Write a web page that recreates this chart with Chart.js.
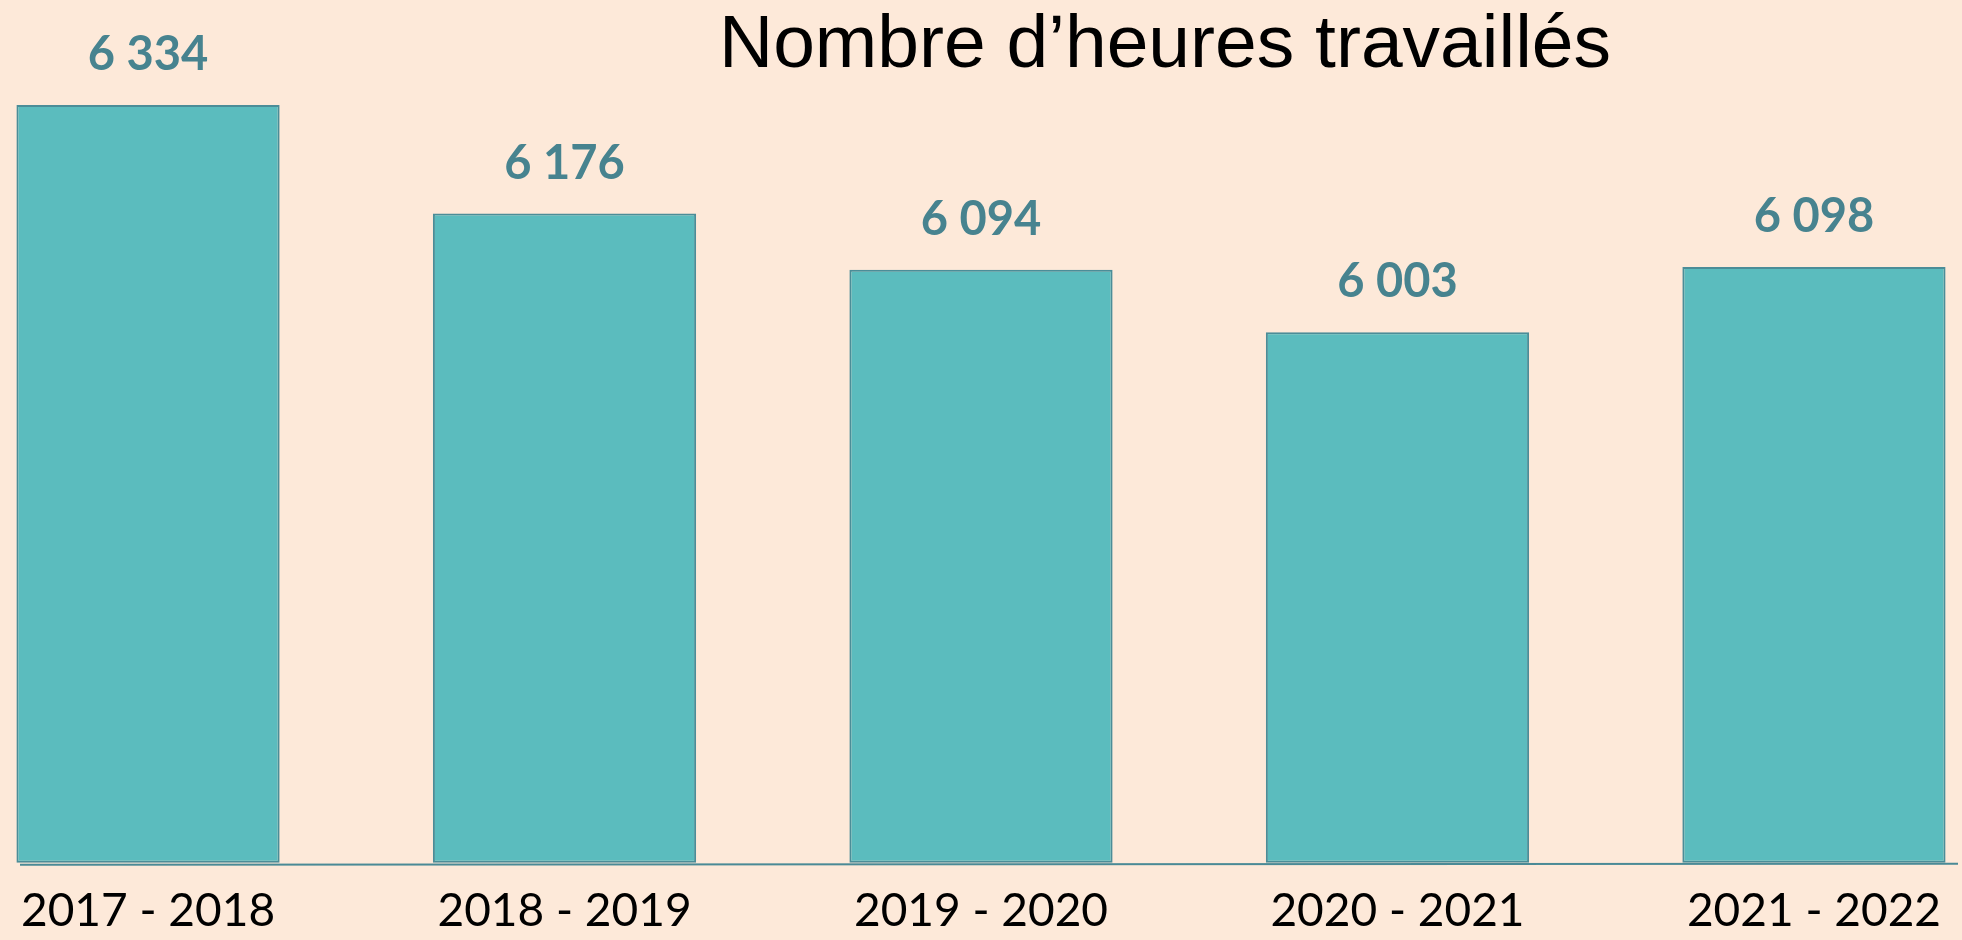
<!DOCTYPE html>
<html>
<head>
<meta charset="utf-8">
<script src="https://cdn.jsdelivr.net/npm/chart.js@4"></script>
<style>
  html, body { margin: 0; padding: 0; background: #fde9d9; overflow: hidden; }
  #wrap { width: 1962px; height: 940px; }
</style>
</head>
<body>
<div id="wrap"><canvas id="heures"></canvas></div>
<script>
const annees = ["2017 - 2018", "2018 - 2019", "2019 - 2020", "2020 - 2021", "2021 - 2022"];
const heures = [6334, 6176, 6094, 6003, 6098];
const yMin = 5230;
const yMax = 6334;
const titre = "Nombre d\u2019heures travaillés";

// valeurs au-dessus des barres + titre + ligne de base
const decor = {
  id: 'decor',
  afterDatasetsDraw(chart) {
    const ctx = chart.ctx;
    const area = chart.chartArea;
    ctx.save();
    ctx.strokeStyle = '#4a8a96';
    ctx.lineWidth = 2;
    ctx.beginPath();
    ctx.moveTo(20, area.bottom + 2);
    ctx.lineTo(1958, area.bottom + 1);
    ctx.stroke();

    ctx.fillStyle = '#47838f';
    ctx.font = "bold 47px Lato, 'Open Sans', sans-serif";
    ctx.textAlign = 'center';
    ctx.textBaseline = 'middle';
    chart.getDatasetMeta(0).data.forEach((bar, i) => {
      const txt = heures[i].toLocaleString('fr-FR').replace(/\s/g, ' ');
      ctx.fillText(txt, bar.x, bar.y - 50);
    });

    ctx.fillStyle = '#000';
    ctx.font = "75px 'Liberation Sans', Arial, sans-serif";
    ctx.textBaseline = 'alphabetic';
    ctx.fillText(titre, 1165, 67);
    ctx.restore();
  }
};

new Chart(document.getElementById('heures'), {
  type: 'bar',
  data: {
    labels: annees,
    datasets: [{
      label: titre,
      data: heures,
      base: yMin,
      backgroundColor: '#5bbcbe',
      borderColor: '#4b8d98',
      borderWidth: 2,
      borderSkipped: false,
      categoryPercentage: 1,
      barPercentage: 0.632,
      clip: false
    }]
  },
  options: {
    responsive: true,
    maintainAspectRatio: false,
    animation: false,
    layout: {
      padding: { left: 148, right: 141, top: 105, bottom: -20 }
    },
    plugins: {
      legend: { display: false },
      title: { display: false },
      tooltip: { enabled: false }
    },
    scales: {
      x: {
        offset: false,
        grid: { display: false, drawTicks: false },
        border: { display: false },
        ticks: {
          color: '#000',
          padding: 21,
          maxRotation: 0,
          autoSkip: false,
          font: { family: "Lato, 'Open Sans', sans-serif", size: 46 }
        }
      },
      y: {
        display: false,
        min: yMin,
        max: yMax
      }
    }
  },
  plugins: [decor]
});
</script>
</body>
</html>
